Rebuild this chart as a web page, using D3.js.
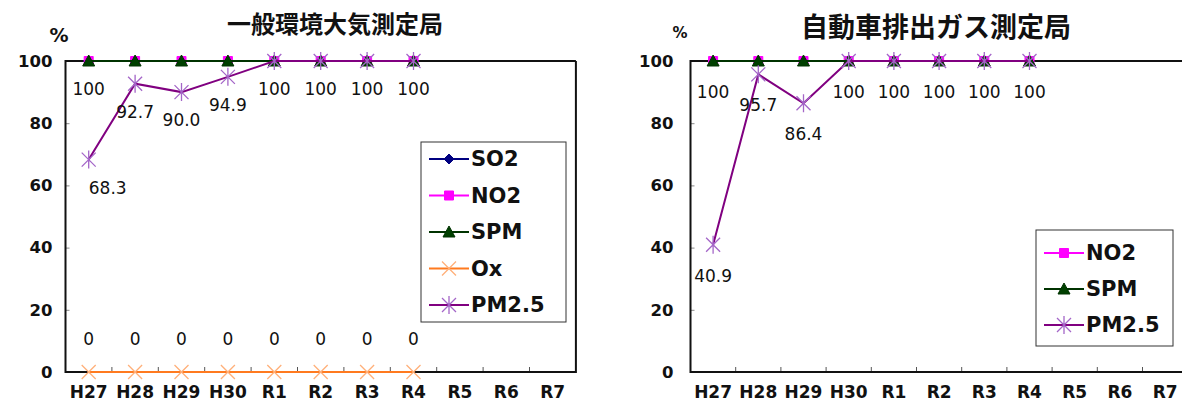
<!DOCTYPE html>
<html>
<head>
<meta charset="utf-8">
<script src="https://cdn.jsdelivr.net/npm/d3@7/dist/d3.min.js"></script>
<style>
  html, body { margin: 0; padding: 0; background: #fff; }
  svg { display: block; }
  .tick text { font-family: "DejaVu Sans", Verdana, sans-serif; font-weight: bold; font-size: 16.5px; fill: #111; }
</style>
</head>
<body>
<svg id="chart" width="1182" height="405"></svg>
<script>
// ---------------- data ----------------
const categories = ["H27", "H28", "H29", "H30", "R1", "R2", "R3", "R4", "R5", "R6", "R7"];
const yTicks = [0, 20, 40, 60, 80, 100];

// 一般環境大気測定局
const ippanTitle = "一般環境大気測定局";
const ippanSO2  = [100, 100, 100, 100, 100, 100, 100, 100];
const ippanNO2  = [100, 100, 100, 100, 100, 100, 100, 100];
const ippanSPM  = [100, 100, 100, 100, 100, 100, 100, 100];
const ippanOx   = [0, 0, 0, 0, 0, 0, 0, 0];
const ippanPM25 = [68.3, 92.7, 90.0, 94.9, 100, 100, 100, 100];

// 自動車排出ガス測定局
const jihaiTitle = "自動車排出ガス測定局";
const jihaiNO2  = [100, 100, 100, 100, 100, 100, 100, 100];
const jihaiSPM  = [100, 100, 100, 100, 100, 100, 100, 100];
const jihaiPM25 = [40.9, 95.7, 86.4, 100, 100, 100, 100, 100];

const seriesNames = { SO2: "SO2", NO2: "NO2", SPM: "SPM", Ox: "Ox", PM25: "PM2.5" };

// ---------------- styles ----------------
const styles = {
  SO2:  { line: "#000080", fill: "#000080", stroke: "#000080", shape: "diamond" },
  NO2:  { line: "#FF00FF", fill: "#FF00FF", stroke: "#FF00FF", shape: "square" },
  SPM:  { line: "#003300", fill: "#004000", stroke: "#003300", shape: "triangle" },
  Ox:   { line: "#FF7A1F", fill: "none",    stroke: "#FFB07A", shape: "x" },
  PM25: { line: "#800080", fill: "none",    stroke: "#A466C8", shape: "asterisk" }
};

function markerPath(shape) {
  switch (shape) {
    case "diamond":  return "M0,-5L5,0L0,5L-5,0Z";
    case "square":   return "M-4.5,-4.5H4.5V4.5H-4.5Z";
    case "triangle": return "M0,-6L6,5L-6,5Z";
    case "x":        return "M-7,-7L7,7M-7,7L7,-7";
    case "asterisk": return "M-7,-7L7,7M-7,7L7,-7M0,-9V9";
  }
}

const svg = d3.select("#chart");

function drawChart(cfg) {
  const g = svg.append("g");
  const x = d3.scaleBand().domain(categories).range([cfg.x0, cfg.x0 + cfg.band * categories.length]).padding(0);
  const y = d3.scaleLinear().domain([0, 100]).range([cfg.yBottom, cfg.yTop]);
  const cx = c => x(c) + x.bandwidth() / 2;

  // title
  g.append("text")
    .attr("x", cfg.titleX).attr("y", cfg.titleY)
    .attr("text-anchor", "middle")
    .style("font-family", "'Noto Sans CJK JP', sans-serif")
    .style("font-weight", "bold").style("font-size", cfg.titleSize + "px")
    .attr("fill", "#111")
    .text(cfg.title);

  // % label
  g.append("text")
    .attr("x", cfg.pctX).attr("y", cfg.pctY)
    .attr("text-anchor", "middle")
    .style("font-family", "'DejaVu Sans', sans-serif")
    .style("font-weight", "bold").style("font-size", cfg.pctSize + "px")
    .attr("fill", "#111")
    .text("%");

  // y axis
  const yAxis = d3.axisLeft(y).tickValues(yTicks).tickSize(-4).tickPadding(cfg.yPad).tickFormat(d3.format("d"));
  const ya = g.append("g").attr("transform", `translate(${cfg.x0},0)`).call(yAxis);
  ya.select(".domain").remove();
  ya.selectAll(".tick line").attr("stroke", "#888");

  // x axis ticks (between categories, pointing inward)
  const bounds = categories.slice(1).map(c => x(c));
  g.selectAll(".xtick").data(bounds).enter().append("line")
    .attr("x1", d => d).attr("x2", d => d)
    .attr("y1", cfg.yBottom).attr("y2", cfg.yBottom - 5)
    .attr("stroke", "#555").attr("stroke-width", 1);
  g.selectAll(".xlab").data(categories).enter().append("text")
    .attr("x", d => cx(d)).attr("y", cfg.xLabY)
    .attr("text-anchor", "middle")
    .style("font-family", "'DejaVu Sans', Verdana, sans-serif")
    .style("font-weight", "bold").style("font-size", "17px")
    .attr("fill", "#111")
    .text(d => d);

  // frame
  const right = Math.min(cfg.x0 + cfg.band * categories.length, 1200);
  g.append("path")
    .attr("d", `M${right},${cfg.yTop}H${cfg.x0}V${cfg.yBottom}H${right}` + (cfg.closeRight ? `V${cfg.yTop}` : ""))
    .attr("fill", "none").attr("stroke", "#111").attr("stroke-width", 2);

  // series
  cfg.series.forEach(s => {
    const st = styles[s.key];
    const pts = s.values.map((v, i) => [cx(categories[i]), y(v)]);
    g.append("path")
      .attr("d", d3.line()(pts))
      .attr("fill", "none").attr("stroke", st.line).attr("stroke-width", 2);
    g.selectAll(null).data(pts).enter().append("path")
      .attr("transform", d => `translate(${d[0]},${d[1]})`)
      .attr("d", markerPath(st.shape))
      .attr("fill", st.fill)
      .attr("stroke", st.stroke).attr("stroke-width", st.fill === "none" ? 1.3 : 1);
  });

  // data labels
  cfg.labels.forEach(L => {
    g.selectAll(null).data(L.values).enter().append("text")
      .attr("x", (d, i) => cx(categories[i]) + (L.dx[i] || 0))
      .attr("y", (d, i) => y(d) + L.dy)
      .attr("text-anchor", "middle")
      .attr("dominant-baseline", "central")
      .style("font-family", "'DejaVu Sans', Verdana, sans-serif")
      .style("font-size", "17px")
      .attr("fill", "#111")
      .text(d => L.fmt(d));
  });

  // legend
  const lg = g.append("g");
  lg.append("rect")
    .attr("x", cfg.legend.x).attr("y", cfg.legend.y)
    .attr("width", cfg.legend.w).attr("height", cfg.legend.h)
    .attr("fill", "#fff").attr("stroke", "#333").attr("stroke-width", 1);
  cfg.series.forEach((s, i) => {
    const st = styles[s.key];
    const yy = cfg.legend.y + cfg.legend.first + i * cfg.legend.step;
    const lx = cfg.legend.x + 8;
    lg.append("line").attr("x1", lx).attr("x2", lx + 40).attr("y1", yy).attr("y2", yy)
      .attr("stroke", st.line).attr("stroke-width", 2);
    lg.append("path").attr("transform", `translate(${lx + 20},${yy})`)
      .attr("d", markerPath(st.shape)).attr("fill", st.fill)
      .attr("stroke", st.stroke).attr("stroke-width", st.fill === "none" ? 1.3 : 1);
    lg.append("text").attr("x", lx + 42).attr("y", yy)
      .attr("dominant-baseline", "central")
      .style("font-family", "'DejaVu Sans', Verdana, sans-serif")
      .style("font-weight", "bold").style("font-size", "21px")
      .attr("fill", "#111")
      .text(seriesNames[s.key]);
  });
}

const fmtPM = d => d === 100 ? "100" : d3.format(".1f")(d);

drawChart({
  title: ippanTitle, titleX: 335, titleY: 33, titleSize: 24,
  pctX: 59, pctY: 42, pctSize: 19,
  x0: 65.5, band: 46.4, yTop: 61, yBottom: 372, yPad: 13, xLabY: 398, closeRight: true,
  series: [
    { key: "SO2", values: ippanSO2 },
    { key: "NO2", values: ippanNO2 },
    { key: "SPM", values: ippanSPM },
    { key: "Ox", values: ippanOx },
    { key: "PM25", values: ippanPM25 }
  ],
  labels: [
    { values: ippanPM25, dy: 28, dx: [19], fmt: fmtPM },
    { values: ippanSPM.slice(0, 1), dy: 28, dx: [], fmt: d => String(d) },
    { values: ippanOx, dy: -33, dx: [], fmt: d => String(d) }
  ],
  legend: { x: 421, y: 142, w: 145, h: 180, first: 17, step: 36.5 }
});

drawChart({
  title: jihaiTitle, titleX: 936, titleY: 37, titleSize: 27,
  pctX: 680, pctY: 38, pctSize: 15,
  x0: 690.5, band: 45.2, yTop: 61, yBottom: 372, yPad: 17, xLabY: 398, closeRight: false,
  series: [
    { key: "NO2", values: jihaiNO2 },
    { key: "SPM", values: jihaiSPM },
    { key: "PM25", values: jihaiPM25 }
  ],
  labels: [
    { values: jihaiPM25, dy: 31, dx: [], fmt: fmtPM },
    { values: jihaiSPM.slice(0, 1), dy: 31, dx: [], fmt: d => String(d) }
  ],
  legend: { x: 1036, y: 230, w: 137, h: 116, first: 23, step: 36 }
});
</script>
</body>
</html>
